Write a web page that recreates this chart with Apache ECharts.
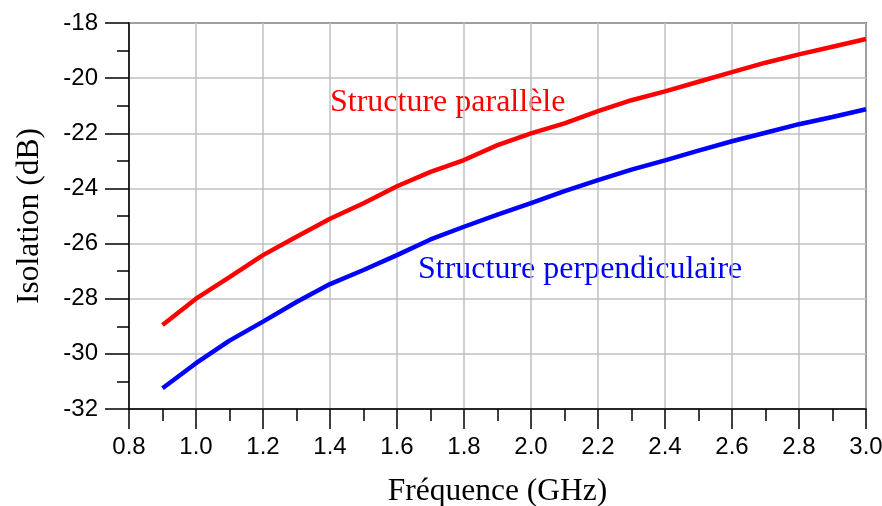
<!DOCTYPE html>
<html>
<head>
<meta charset="utf-8">
<script src="https://cdn.jsdelivr.net/npm/echarts@6/dist/echarts.min.js"></script>
<style>html,body{margin:0;padding:0;background:#fff;}#c{width:882px;height:506px;}</style>
</head>
<body>
<div id="c"></div>
<script>
var freq = [0.9,1.0,1.1,1.2,1.3,1.4,1.5,1.6,1.7,1.8,1.9,2.0,2.1,2.2,2.3,2.4,2.5,2.6,2.7,2.8,2.9,3.0];
var parallele = [-28.95,-28.0,-27.22,-26.42,-25.75,-25.1,-24.54,-23.92,-23.4,-22.97,-22.43,-22.0,-21.64,-21.2,-20.8,-20.48,-20.13,-19.78,-19.44,-19.14,-18.86,-18.58];
var perpendiculaire = [-31.25,-30.34,-29.52,-28.83,-28.12,-27.47,-26.96,-26.42,-25.85,-25.39,-24.95,-24.53,-24.1,-23.7,-23.32,-22.98,-22.63,-22.29,-21.98,-21.67,-21.41,-21.13];
var xTicks = [0.8,1.0,1.2,1.4,1.6,1.8,2.0,2.2,2.4,2.6,2.8,3.0];
var yTicks = [-32,-30,-28,-26,-24,-22,-20,-18];
var labelParallele = 'Structure parallèle';
var labelPerp = 'Structure perpendiculaire';

function pairs(xs, ys){ return xs.map(function(x,i){return [x, ys[i]];}); }

var chart = echarts.init(document.getElementById('c'), null, {renderer:'canvas'});
chart.setOption({
  animation:false,
  backgroundColor:'#fff',
  grid:{left:129,right:16,top:23,bottom:97,containLabel:false,outerBoundsMode:'none',show:true,borderColor:'#000',borderWidth:1.5,backgroundColor:'transparent'},
  xAxis:{
    type:'value', min:xTicks[0], max:xTicks[xTicks.length-1], interval:0.2,
    name:'Fréquence (GHz)', nameLocation:'middle', nameGap:67,
    nameTextStyle:{fontFamily:'Liberation Serif',fontSize:31.5,color:'#000'},
    axisLine:{show:true,lineStyle:{color:'#000',width:1.5}},
    axisTick:{show:true,inside:false,length:20,lineStyle:{color:'#000',width:1.5}},
    minorTick:{show:true,splitNumber:2,length:12,lineStyle:{color:'#000',width:1.5}},
    axisLabel:{margin:26,fontFamily:'Liberation Sans',fontSize:24,color:'#000',formatter:function(v){return v.toFixed(1);}},
    splitLine:{show:true,lineStyle:{color:'#c0c0c0',width:1.5}}
  },
  yAxis:{
    type:'value', min:yTicks[0], max:yTicks[yTicks.length-1], interval:2,
    name:'Isolation (dB)', nameLocation:'middle', nameGap:83,
    nameTextStyle:{fontFamily:'Liberation Serif',fontSize:31.5,color:'#000'},
    axisLine:{show:true,lineStyle:{color:'#000',width:1.5}},
    axisTick:{show:true,inside:false,length:24,lineStyle:{color:'#000',width:1.5}},
    minorTick:{show:true,splitNumber:2,length:12,lineStyle:{color:'#000',width:1.5}},
    axisLabel:{margin:31,fontFamily:'Liberation Sans',fontSize:24,color:'#000'},
    splitLine:{show:true,lineStyle:{color:'#c0c0c0',width:1.5}}
  },
  series:[
    {type:'line',data:pairs(freq,parallele),showSymbol:false,symbol:'none',lineStyle:{color:'#ff0000',width:4.5},z:3},
    {type:'line',data:pairs(freq,perpendiculaire),showSymbol:false,symbol:'none',lineStyle:{color:'#0000ff',width:4.5},z:3}
  ],
  graphic:[
    {type:'text',left:330,top:87,style:{text:labelParallele,fill:'#ff0000',font:'32px "Liberation Serif"'}},
    {type:'text',left:418,top:254,style:{text:labelPerp,fill:'#0000ff',font:'32px "Liberation Serif"'}}
  ]
});
</script>
</body>
</html>
